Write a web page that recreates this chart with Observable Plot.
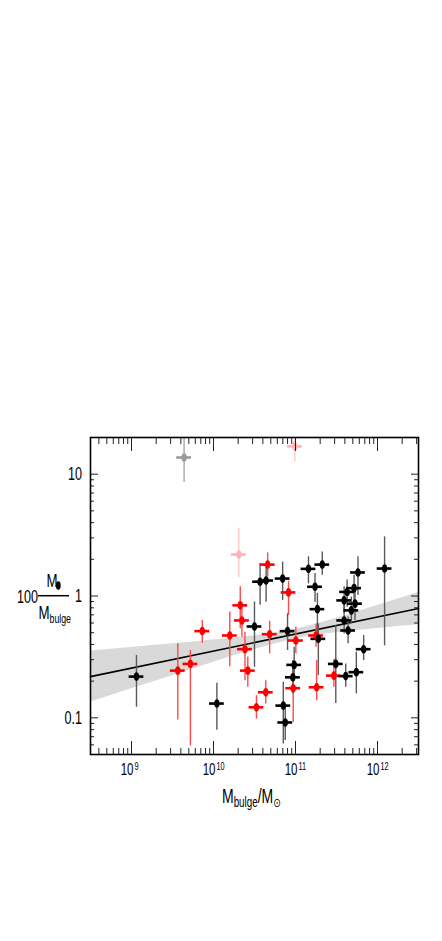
<!DOCTYPE html>
<html>
<head>
<meta charset="utf-8">
<script src="https://cdn.jsdelivr.net/npm/d3@7"></script>
<script src="https://cdn.jsdelivr.net/npm/@observablehq/plot@0.6"></script>
<style>
  html, body { margin: 0; padding: 0; background: #fff; }
  svg { display: block; }
</style>
</head>
<body>
<div id="chart"></div>
<script>
// ---- data ----
const blackMass  = [1.15e9, 1.1e10, 3.16e10, 3.7e10, 4.38e10, 6.97e10, 8.0e10, 9.64e10, 9.29e10, 7.1e10, 7.5e10, 1.44e11, 2.12e11, 1.73e11, 1.85e11, 1.9e11, 3.1e11, 4.1e11, 5.52e11, 6.78e11, 1.22e12, 5.78e11, 5.18e11, 4.26e11, 3.92e11, 5.32e11, 4.8e11, 3.92e11, 4.38e11];
const blackRatio = [0.218, 0.131, 0.562, 1.31, 1.34, 1.39, 0.515, 0.272, 0.215, 0.126, 0.0916, 1.67, 1.81, 1.19, 0.78, 0.445, 0.277, 0.22, 0.237, 0.366, 1.68, 1.56, 1.16, 1.08, 0.92, 0.865, 0.762, 0.63, 0.521];
const blackHi    = [0.325, 0.192, 0.893, 1.85, 1.73, 1.9, 0.715, 0.38, 0.295, 0.196, 0.122, 2.1, 2.3, 1.53, 1.05, 0.59, 0.573, 0.277, 0.346, 0.474, 3.06, 2.1, 1.48, 1.35, 1.19, 1.08, 0.98, 0.865, 0.671];
const blackLo    = [0.122, 0.079, 0.26, 0.838, 0.89, 0.92, 0.357, 0.2, 0.157, 0.061, 0.065, 1.26, 1.48, 0.89, 0.49, 0.222, 0.131, 0.178, 0.157, 0.295, 0.39, 1.01, 0.92, 0.81, 0.715, 0.63, 0.59, 0.49, 0.405];

const redMass  = [4.58e10, 8.22e10, 2.12e10, 2.22e10, 7.3e9, 1.58e10, 4.84e10, 2.42e10, 1.78e11, 1.01e11, 2.62e10, 3.67e9, 5.22e9, 4.34e10, 3.34e10, 9.38e10, 1.81e11, 2.94e11];
const redRatio = [1.81, 1.07, 0.838, 0.63, 0.515, 0.474, 0.486, 0.366, 0.474, 0.431, 0.244, 0.244, 0.277, 0.162, 0.122, 0.175, 0.178, 0.222];
const redHi    = [2.26, 1.32, 1.19, 0.787, 0.63, 0.738, 0.622, 0.505, 0.59, 0.556, 0.315, 0.405, 0.357, 0.202, 0.152, 0.277, 0.295, 0.303];
const redLo    = [1.43, 0.693, 0.538, 0.459, 0.41, 0.263, 0.335, 0.202, 0.38, 0.335, 0.178, 0.0958, 0.059, 0.13, 0.0977, 0.0917, 0.138, 0.178];

const grayMass = [4.38e9];
const grayRatio = [13.7];
const grayHi = [19.8];
const grayLo = [8.53];

const pinkMass = [9.82e10, 2.04e10];
const pinkRatio = [16.9, 2.19];
const pinkHi = [19.9, 3.59];
const pinkLo = [12.7, 1.42];

const xErrDex = 0.09; // half-width of horizontal error bars (dex)

// fit line and its confidence band
const fitMass  = [10 ** 8.5, 10 ** 12.5];
const fitRatio = [0.218, 0.79];
const bandMass  = [10 ** 8.5, 1e9, 10 ** 9.5, 1e10, 10 ** 10.5, 1e11, 10 ** 11.5, 1e12, 10 ** 12.5];
const bandUpper = [0.353, 0.378, 0.405, 0.435, 0.472, 0.533, 0.656, 0.836, 1.07];
const bandLower = [0.134, 0.173, 0.222, 0.286, 0.363, 0.444, 0.500, 0.542, 0.582];

// ticks
const xMajor = [1e9, 1e10, 1e11, 1e12];
const xTickExp = ["9", "10", "11", "12"];
const yMajor = [0.1, 1, 10];
const yTickLabels = ["0.1", "1", "10"];

// ---- build tables ----
function group(mass, ratio, hi, lo, color, barColor) {
  return mass.map((m, i) => ({ x: m, y: ratio[i], hi: hi[i], lo: lo[i], color, barColor }));
}
const points = [
  ...group(grayMass, grayRatio, grayHi, grayLo, "#9a9a9a", "#a8a8a8"),
  ...group(pinkMass, pinkRatio, pinkHi, pinkLo, "#ffb4b4", "#ffc8c8"),
  ...group(redMass, redRatio, redHi, redLo, "#ff0000", "#ff4a4a"),
  ...group(blackMass, blackRatio, blackHi, blackLo, "#000000", "#5a5a5a")
];
const fit = fitMass.map((m, i) => ({ x: m, y: fitRatio[i] }));
const band = bandMass.map((m, i) => ({ x: m, hi: bandUpper[i], lo: bandLower[i] }));

const xMinor = [];
for (let e = 8; e <= 12; e++) for (let k = 2; k <= 9; k++) {
  const v = k * 10 ** e;
  if (v > 10 ** 8.5 && v < 10 ** 12.5) xMinor.push(v);
}
const yMinor = [];
for (let e = -2; e <= 1; e++) for (let k = 2; k <= 9; k++) {
  const v = k * 10 ** e;
  if (v >= 0.05 && v <= 20) yMinor.push(v);
}

const FONT = "'Liberation Sans', Arial, sans-serif";
const SQUEEZE = 0.7; // condensed look of the reference lettering

const ellipse = {
  draw(ctx) {
    const rx = 2.8, ry = 4.3, k = 0.5523;
    ctx.moveTo(rx, 0);
    ctx.bezierCurveTo(rx, ry * k, rx * k, ry, 0, ry);
    ctx.bezierCurveTo(-rx * k, ry, -rx, ry * k, -rx, 0);
    ctx.bezierCurveTo(-rx, -ry * k, -rx * k, -ry, 0, -ry);
    ctx.bezierCurveTo(rx * k, -ry, rx, -ry * k, rx, 0);
    ctx.closePath();
  }
};

const f = 10 ** xErrDex;
const tickStroke = "#222";

const svg = Plot.plot({
  width: 442,
  height: 941,
  marginTop: 437,
  marginBottom: 187,
  marginLeft: 90,
  marginRight: 24,
  style: { fontFamily: FONT, background: "#fff" },
  x: { type: "log", domain: [10 ** 8.5, 10 ** 12.5] },
  y: { type: "log", domain: [0.05, 20] },
  marks: [
    Plot.areaY(band, { x: "x", y1: "lo", y2: "hi", fill: "#d9d9d9", curve: "natural" }),
    Plot.line(fit, { x: "x", y: "y", stroke: "#000", strokeWidth: 1.6 }),
    Plot.ruleX(points, { x: "x", y1: "lo", y2: "hi", stroke: "barColor", strokeWidth: 1.4 }),
    Plot.ruleY(points, { y: "y", x1: d => d.x / f, x2: d => d.x * f, stroke: "color", strokeWidth: 2.6 }),
    Plot.dot(points, { x: "x", y: "y", symbol: ellipse, fill: "color", stroke: null }),
    // inward ticks
    Plot.axisX(xMajor, { anchor: "bottom", tickSize: -13, text: null, label: null, stroke: tickStroke }),
    Plot.axisX(xMinor, { anchor: "bottom", tickSize: -6, text: null, label: null, stroke: tickStroke }),
    Plot.axisX(xMajor, { anchor: "top", tickSize: -13, text: null, label: null, stroke: tickStroke }),
    Plot.axisX(xMinor, { anchor: "top", tickSize: -6, text: null, label: null, stroke: tickStroke }),
    Plot.axisY(yMajor, { anchor: "left", tickSize: -8, text: null, label: null, stroke: tickStroke }),
    Plot.axisY(yMinor, { anchor: "left", tickSize: -4, text: null, label: null, stroke: tickStroke }),
    Plot.axisY(yMajor, { anchor: "right", tickSize: -8, text: null, label: null, stroke: tickStroke }),
    Plot.axisY(yMinor, { anchor: "right", tickSize: -5, text: null, label: null, stroke: tickStroke }),
    // x tick labels 10^n
    Plot.text(xMajor, { x: d => d, text: () => "10", frameAnchor: "bottom", textAnchor: "end", dx: 2, dy: 20, fontSize: 16.5, fill: "#000" }),
    Plot.text(xMajor, { x: d => d, text: (d, i) => xTickExp[i], frameAnchor: "bottom", textAnchor: "start", dx: 3, dy: 15.5, fontSize: 10.5, fill: "#000" }),
    Plot.frame({ stroke: "#000", strokeWidth: 1.6 })
  ]
});

const s = d3.select(svg);

// y tick labels, placed with the plot's own y scale
const yScale = svg.scale("y");
const ylab = s.append("g").attr("font-family", FONT).attr("font-size", 18).attr("fill", "#000").attr("text-anchor", "end");
yMajor.forEach((v, i) => {
  ylab.append("text").attr("x", 82).attr("y", yScale.apply(v)).attr("dy", "0.36em").text(yTickLabels[i]);
});

// axis titles
const xl = s.append("text").attr("x", 222).attr("y", 803).attr("text-anchor", "start").attr("font-family", FONT).attr("font-size", 20).attr("fill", "#000");
xl.append("tspan").text("M");
xl.append("tspan").attr("font-size", 14).attr("dy", 4).text("bulge");
xl.append("tspan").attr("dy", -4).text("/M");
xl.append("tspan").attr("font-size", 13).attr("dy", 4).attr("font-family", "'DejaVu Sans', sans-serif").text("⊙");

const yl = s.append("g").attr("fill", "#000").attr("text-anchor", "start");
yl.append("text").attr("x", 38).attr("y", 602.5).attr("text-anchor", "end").attr("font-family", FONT).attr("font-size", 18).text("100");
yl.append("line").attr("x1", 38).attr("x2", 69).attr("y1", 595.7).attr("y2", 595.7).attr("stroke", "#000").attr("stroke-width", 1.5);
yl.append("text").attr("x", 46.5).attr("y", 587).attr("font-family", FONT).attr("font-size", 19).text("M");
yl.append("ellipse").attr("cx", 58.3).attr("cy", 585.5).attr("rx", 2.4).attr("ry", 4.2).attr("fill", "#000");
const den = yl.append("text").attr("x", 38.5).attr("y", 618.5).attr("font-family", FONT).attr("font-size", 19);
den.append("tspan").text("M");
den.append("tspan").attr("font-size", 12.5).attr("dy", 4).text("bulge");

// condense every text horizontally about its own anchor point
s.selectAll("text").each(function () {
  const xa = parseFloat(this.getAttribute("x")), ya = parseFloat(this.getAttribute("y"));
  const x = isFinite(xa) ? xa : 0, y = isFinite(ya) ? ya : 0;
  this.removeAttribute("x");
  this.removeAttribute("y");
  const t = this.getAttribute("transform") || "";
  this.setAttribute("transform", `${t} translate(${x},${y}) scale(${SQUEEZE},1)`.trim());
});

document.getElementById("chart").appendChild(svg);
</script>
</body>
</html>
